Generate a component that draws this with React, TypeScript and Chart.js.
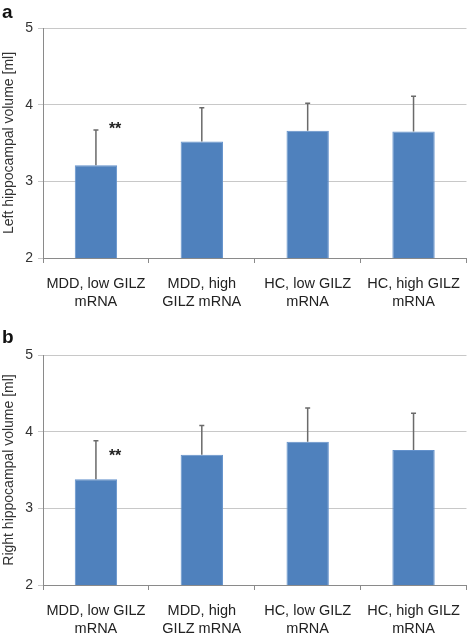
import React, { useEffect, useRef } from "react";
import { Chart, registerables } from "chart.js";

Chart.register(...registerables);

// ---- data ----
const categories: string[][] = [
  ["MDD, low GILZ", "mRNA"],
  ["MDD, high", "GILZ mRNA"],
  ["HC, low GILZ", "mRNA"],
  ["HC, high GILZ", "mRNA"],
];
const leftMeans = [3.21, 3.52, 3.66, 3.65];
const leftSD = [0.46, 0.44, 0.36, 0.46];
const rightMeans = [3.38, 3.7, 3.87, 3.76];
const rightSD = [0.5, 0.38, 0.44, 0.48];
const significance = ["**", "", "", ""];
const significanceLevel = 3.74;
const yMin = 2;
const yMax = 5;
const yStep = 1;

const FONT = "'Liberation Sans', Arial, Helvetica, sans-serif";

type PanelProps = {
  letter: string;
  letterBaseline: number;
  title: string;
  means: number[];
  sds: number[];
  top: number;
  padTop: number;
  xHeight: number;
};

function Panel(props: PanelProps) {
  const ref = useRef<HTMLCanvasElement | null>(null);
  useEffect(() => {
    const canvas = ref.current!;
    const { means, sds } = props;
    const errorPlugin = {
      id: "errorBars",
      afterDatasetsDraw(chart: any) {
        const ctx = chart.ctx;
        const meta = chart.getDatasetMeta(0);
        const y = chart.scales.y;
        ctx.save();
        ctx.strokeStyle = "#6a6a6a";
        ctx.lineWidth = 1.5;
        meta.data.forEach((bar: any, i: number) => {
          const topPx = y.getPixelForValue(means[i] + sds[i]);
          ctx.beginPath();
          ctx.moveTo(bar.x, bar.y);
          ctx.lineTo(bar.x, topPx);
          ctx.moveTo(bar.x - 2.5, topPx);
          ctx.lineTo(bar.x + 2.5, topPx);
          ctx.stroke();
          if (significance[i]) {
            ctx.fillStyle = "#222";
            ctx.font = `bold 16px ${FONT}`;
            ctx.textAlign = "center";
            ctx.textBaseline = "alphabetic";
            ctx.fillText(
              significance[i],
              bar.x + bar.width / 2 - 2,
              y.getPixelForValue(significanceLevel) + 9
            );
          }
        });
        ctx.restore();
      },
      afterDraw(chart: any) {
        const ctx = chart.ctx;
        ctx.save();
        ctx.fillStyle = "#111";
        ctx.font = `bold 19px ${FONT}`;
        ctx.textAlign = "left";
        ctx.textBaseline = "alphabetic";
        ctx.fillText(props.letter, 2, props.letterBaseline);
        ctx.restore();
      },
    };
    const chart = new Chart(canvas, {
      type: "bar",
      data: {
        labels: categories,
        datasets: [
          {
            data: means,
            backgroundColor: "#4f81bd",
            borderColor: "#6492cc",
            borderWidth: 1,
            categoryPercentage: 1,
            barPercentage: 0.4,
          },
        ],
      },
      options: {
        responsive: false,
        animation: false,
        devicePixelRatio: 1,
        layout: { padding: { top: props.padTop, right: 1, left: 0, bottom: 0 } },
        plugins: {
          legend: { display: false },
          tooltip: { enabled: false },
        },
        scales: {
          x: {
            offset: true,
            grid: {
              offset: true,
              display: true,
              drawOnChartArea: false,
              drawTicks: true,
              tickLength: 5,
              color: "#8a8a8a",
            },
            border: { color: "#8a8a8a", width: 1 },
            ticks: {
              font: { family: FONT, size: 14.5, lineHeight: 1.22 },
              color: "#222",
              padding: 12,
              maxRotation: 0,
              autoSkip: false,
            },
            afterFit: (s: any) => {
              s.height = props.xHeight;
            },
          },
          y: {
            min: yMin,
            max: yMax,
            ticks: {
              stepSize: yStep,
              font: { family: FONT, size: 14 },
              color: "#333",
              padding: 5,
            },
            grid: { color: "#c8c8c8", tickLength: 5, lineWidth: 1 },
            border: { color: "#8a8a8a", width: 1 },
            title: {
              display: true,
              text: props.title,
              font: { family: FONT, size: 14 },
              color: "#333",
              padding: { top: 1, bottom: 0 },
            },
            afterFit: (s: any) => {
              s.width = 43;
            },
          },
        },
      },
      plugins: [errorPlugin],
    } as any);
    return () => chart.destroy();
  }, []);
  return (
    <canvas
      ref={ref}
      width={472}
      height={318}
      style={{ position: "absolute", left: 0, top: props.top, width: 472, height: 318 }}
    />
  );
}

export default function App() {
  return (
    <div style={{ position: "absolute", left: 0, top: 0, width: 472, height: 636, background: "#fff", overflow: "hidden" }}>
      <Panel
        letter="a"
        letterBaseline={18}
        title="Left hippocampal volume [ml]"
        means={leftMeans}
        sds={leftSD}
        top={0}
        padTop={28}
        xHeight={60}
      />
      <Panel
        letter="b"
        letterBaseline={25}
        title="Right hippocampal volume [ml]"
        means={rightMeans}
        sds={rightSD}
        top={318}
        padTop={37}
        xHeight={51}
      />
    </div>
  );
}
